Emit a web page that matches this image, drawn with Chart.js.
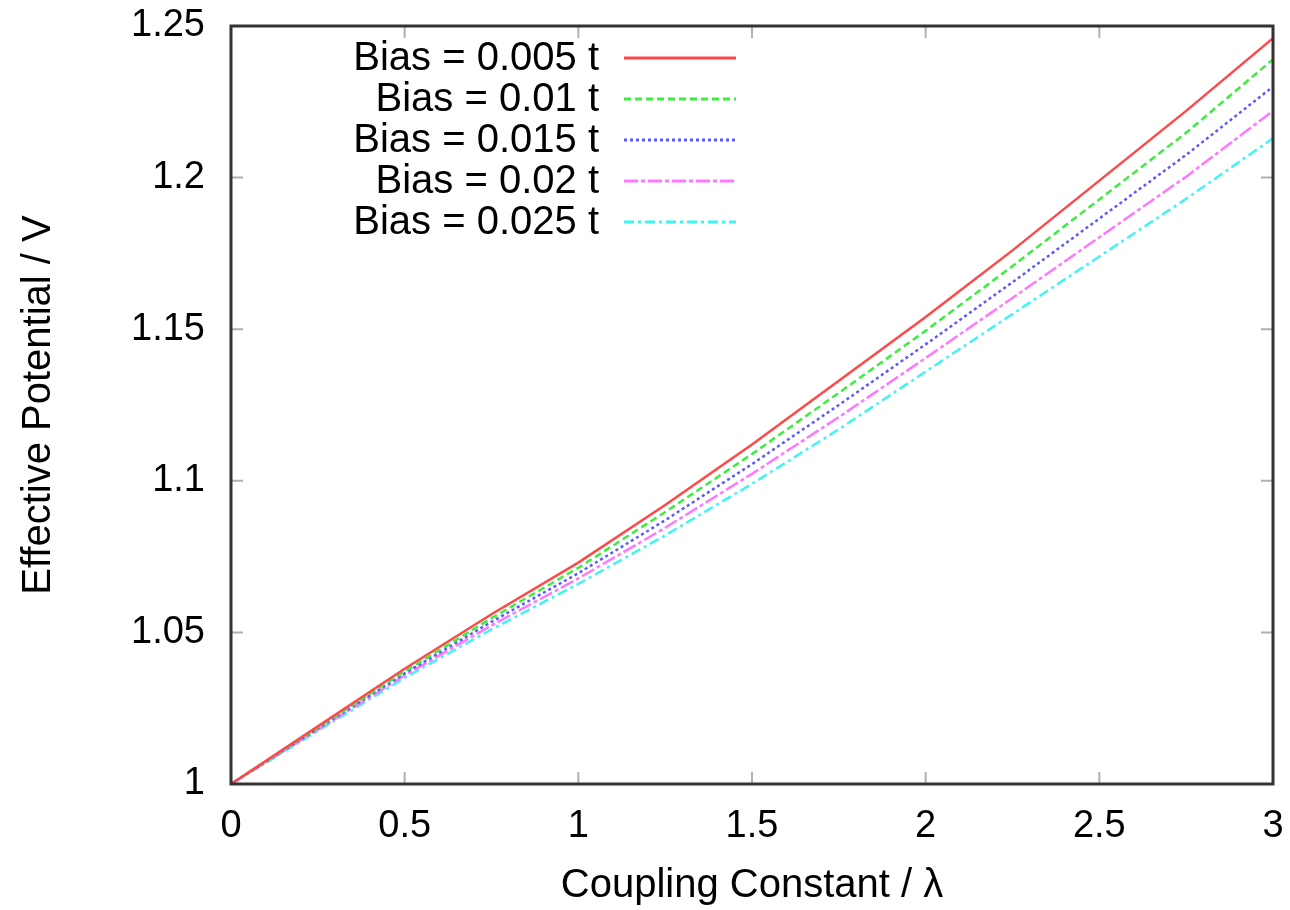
<!DOCTYPE html>
<html>
<head>
<meta charset="utf-8">
<script src="https://cdn.jsdelivr.net/npm/chart.js@4/dist/chart.umd.min.js"></script>
<style>
  html, body { margin: 0; padding: 0; background: #fff; }
  #wrap { width: 1290px; height: 910px; }
</style>
</head>
<body>
<div id="wrap"><canvas id="potChart" width="1290" height="910"></canvas></div>
<script>
// Data
const couplings = [0, 0.25, 0.5, 0.75, 1, 1.25, 1.5, 1.75, 2, 2.25, 2.5, 2.75, 3];
const bias005 = [1, 1.019, 1.038, 1.056, 1.073, 1.092, 1.112, 1.133, 1.154, 1.176, 1.199, 1.222, 1.246];
const bias010 = [1, 1.0186, 1.0371, 1.0547, 1.0713, 1.0897, 1.1088, 1.129, 1.1495, 1.1708, 1.1928, 1.2148, 1.239];
const bias015 = [1, 1.0183, 1.0365, 1.0535, 1.0695, 1.087, 1.1055, 1.125, 1.145, 1.1655, 1.1865, 1.2075, 1.23];
const bias020 = [1, 1.0179, 1.0358, 1.0523, 1.0678, 1.0845, 1.1023, 1.121, 1.1405, 1.1603, 1.1803, 1.2003, 1.222];
const bias025 = [1, 1.0175, 1.035, 1.051, 1.066, 1.082, 1.099, 1.117, 1.136, 1.155, 1.174, 1.193, 1.213];
const seriesLabels = ["Bias = 0.005 t", "Bias = 0.01 t", "Bias = 0.015 t", "Bias = 0.02 t", "Bias = 0.025 t"];
const xTicks = [0, 0.5, 1, 1.5, 2, 2.5, 3];
const yTicks = [1, 1.05, 1.1, 1.15, 1.2, 1.25];

const FONT = "'Liberation Sans', Arial, sans-serif";

const makeSet = (label, values, color, dash) => ({
  label: label,
  data: couplings.map((x, i) => ({ x: x, y: values[i] })),
  borderColor: color,
  borderWidth: 2.5,
  borderDash: dash,
  pointRadius: 0,
  fill: false,
  tension: 0,
});

// gnuplot-like frame, inward ticks and key
const framePlugin = {
  id: "frame",
  afterDraw(chart) {
    const c = chart.ctx;
    const a = chart.chartArea;
    const xs = chart.scales.x;
    const ys = chart.scales.y;
    c.save();

    // inward ticks (mirrored)
    c.strokeStyle = "#b0b0b0";
    c.lineWidth = 2;
    c.beginPath();
    xTicks.forEach((v) => {
      const px = xs.getPixelForValue(v);
      c.moveTo(px, a.bottom); c.lineTo(px, a.bottom - 12);
      c.moveTo(px, a.top); c.lineTo(px, a.top + 12);
    });
    yTicks.forEach((v) => {
      const py = ys.getPixelForValue(v);
      c.moveTo(a.left, py); c.lineTo(a.left + 12, py);
      c.moveTo(a.right, py); c.lineTo(a.right - 12, py);
    });
    c.stroke();

    // border
    c.strokeStyle = "#333";
    c.lineWidth = 3;
    c.strokeRect(a.left, a.top, a.right - a.left, a.bottom - a.top);

    // key
    c.font = "40px " + FONT;
    c.textAlign = "right";
    c.textBaseline = "middle";
    chart.data.datasets.forEach((ds, i) => {
      const y = 58 + i * 41;
      c.fillStyle = "#000";
      c.fillText(ds.label, 599, y + 1);
      c.strokeStyle = ds.borderColor;
      c.lineWidth = 3;
      c.setLineDash(ds.borderDash || []);
      c.beginPath();
      c.moveTo(624, y);
      c.lineTo(736, y);
      c.stroke();
      c.setLineDash([]);
    });
    c.restore();
  },
};

const ctx = document.getElementById("potChart").getContext("2d");
const potChart = new Chart(ctx, {
  type: "line",
  data: {
    datasets: [
      makeSet(seriesLabels[0], bias005, "#ff4848", []),
      makeSet(seriesLabels[1], bias010, "#3cee3c", [7, 4]),
      makeSet(seriesLabels[2], bias015, "#5a5aff", [3, 3]),
      makeSet(seriesLabels[3], bias020, "#ff78ff", [14, 3, 4, 3]),
      makeSet(seriesLabels[4], bias025, "#40f4f4", [10, 4, 3, 4]),
    ],
  },
  options: {
    responsive: false,
    animation: false,
    layout: { padding: { top: 26, right: 17, left: 0, bottom: 0 } },
    plugins: {
      legend: { display: false },
      tooltip: { enabled: false },
    },
    scales: {
      x: {
        type: "linear",
        min: 0,
        max: 3,
        afterBuildTicks: (s) => { s.ticks = xTicks.map((v) => ({ value: v })); },
        afterFit: (s) => { s.height = 126; s.paddingLeft = 0; s.paddingRight = 0; },
        grid: { display: false },
        border: { display: false },
        ticks: {
          color: "#000",
          padding: 12,
          maxRotation: 0,
          font: { family: FONT, size: 38 },
          callback: (v) => String(+v.toFixed(2)),
        },
        title: {
          display: true,
          text: "Coupling Constant / λ",
          color: "#000",
          font: { family: FONT, size: 40 },
          padding: { top: 0, bottom: 0 },
        },
      },
      y: {
        type: "linear",
        min: 1,
        max: 1.25,
        afterBuildTicks: (s) => { s.ticks = yTicks.map((v) => ({ value: v })); },
        afterFit: (s) => { s.width = 231; s.paddingTop = 0; s.paddingBottom = 0; },
        grid: { display: false },
        border: { display: false },
        ticks: {
          color: "#000",
          padding: 18,
          font: { family: FONT, size: 38 },
          callback: (v) => String(+v.toFixed(2)),
        },
        title: {
          display: true,
          text: "Effective Potential / V",
          color: "#000",
          font: { family: FONT, size: 40 },
          padding: { top: 15, bottom: 0 },
        },
      },
    },
  },
  plugins: [framePlugin],
});
</script>
</body>
</html>
